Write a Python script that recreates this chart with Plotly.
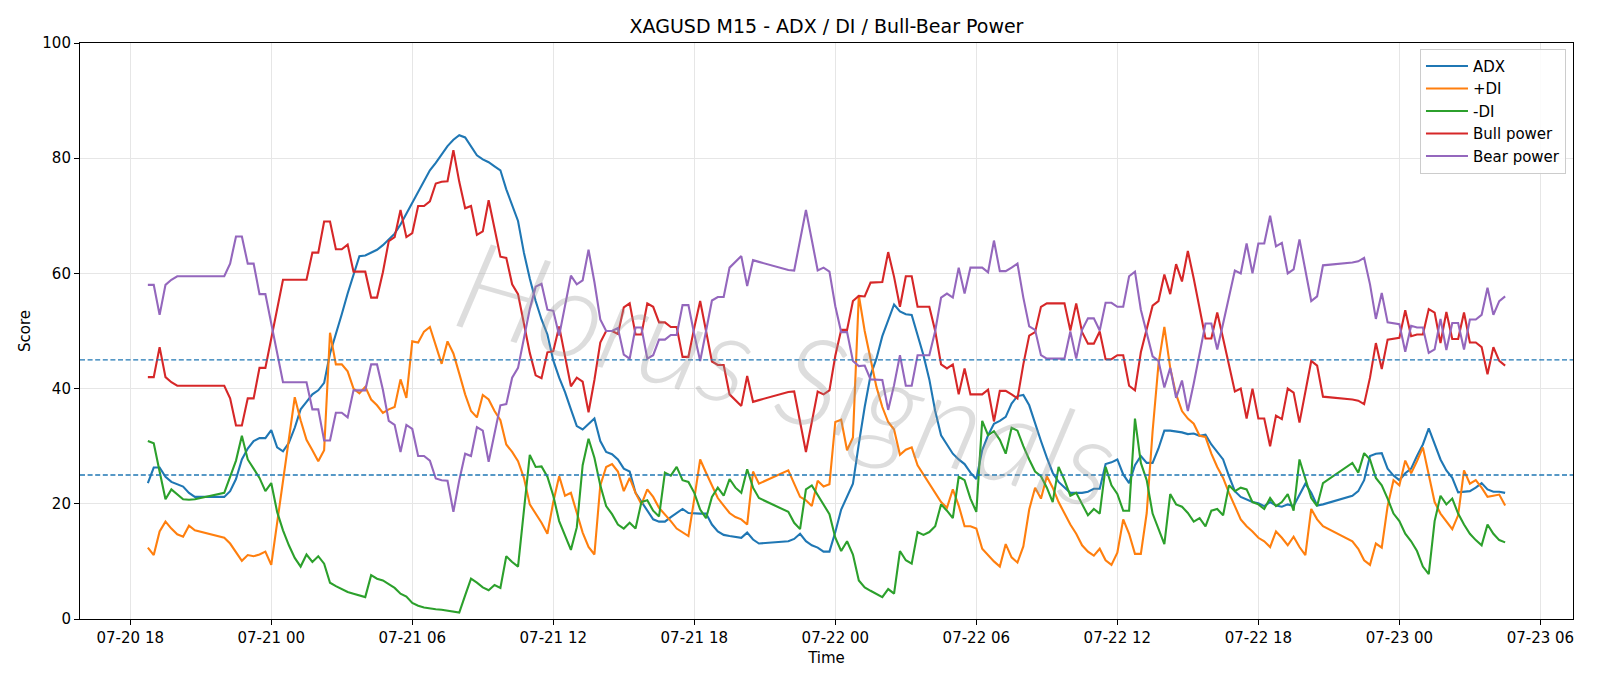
import pandas as pd
import plotly.graph_objects as go

# ---- time axis: 15-minute bars with daily break (20:45 -> 22:00) ----
segment_starts = ["2025-07-20 18:45", "2025-07-20 22:00", "2025-07-21 22:00", "2025-07-22 22:00"]
segment_counts = [9, 92, 92, 27]
times = []
for s, n in zip(segment_starts, segment_counts):
    times += list(pd.date_range(s, periods=n, freq="15min"))

# ---- series values ----
adx = [
    23.6, 26.3, 26.3, 24.7, 23.8, 23.4, 23.0, 21.9, 21.2,
    21.2, 22.2, 24.3, 27.7, 29.6, 30.9, 31.4, 31.4, 32.8, 29.8, 29.1, 30.6, 33.2, 36.4, 37.7, 39.0,
    39.7, 41.0, 46.1, 49.4, 52.9, 56.5, 59.7, 63.0, 63.1, 63.6, 64.1, 64.9, 65.9, 66.9, 68.5, 70.4,
    72.2, 74.3, 76.2, 77.9, 79.2, 80.6, 82.1, 83.2, 84.0, 83.6, 82.1, 80.5, 79.8, 79.3, 78.6, 77.9,
    74.6, 71.7, 69.1, 63.6, 59.1, 55.2, 52.0, 49.4, 44.9, 41.9, 39.4, 36.4, 33.5, 32.9, 33.9, 34.8,
    30.9, 29.0, 28.6, 27.7, 26.1, 25.6, 21.9, 20.3, 18.8, 17.3, 16.9, 16.9, 17.7, 18.4, 19.1, 18.4,
    18.3, 18.3, 18.3, 16.4, 15.2, 14.6, 14.4, 14.3, 14.1, 15.0, 13.8, 13.1,
    13.5, 13.9, 14.8, 13.5, 12.8, 12.4, 11.7, 11.7, 15.1, 19.0, 21.2, 23.5, 30.4, 36.8, 42.3, 45.2,
    49.1, 51.8, 54.6, 53.4, 52.9, 52.8, 49.4, 45.8, 41.6, 36.1, 31.9, 30.3, 28.7, 27.7, 26.9, 25.4,
    24.3, 29.3, 31.9, 33.9, 34.4, 35.1, 37.4, 38.7, 38.9, 37.1, 33.9, 30.9, 28.0, 25.4, 23.8, 22.8,
    21.9, 21.9, 21.9, 22.1, 22.6, 22.6, 26.9, 27.2, 27.7, 25.1, 23.6, 26.7, 28.3, 27.1, 27.1, 29.6,
    32.7, 32.7, 32.6, 32.4, 32.1, 32.2, 31.8, 32.0, 30.3, 29.0, 27.7, 24.8, 22.2, 21.2, 20.8, 20.3,
    20.1, 19.6, 20.3, 19.7, 19.5, 19.9, 19.6, 21.6, 23.5, 21.9, 19.7, 19.9,
    21.4, 22.2, 24.1, 28.3, 28.7, 28.8, 26.1, 24.9, 24.1, 25.3, 26.1, 28.3, 30.3, 33.1, 30.3, 27.7,
    25.8, 24.5, 22.0, 22.1, 22.2, 22.8, 23.6, 22.5, 22.1, 22.1, 21.9,
]
plus_di = [
    12.4, 11.1, 15.2, 16.9, 15.7, 14.7, 14.3, 16.2, 15.4,
    14.1, 13.1, 11.7, 10.1, 11.1, 10.9, 11.2, 11.7, 9.4, 16.7, 24.0, 31.0, 38.5, 34.5, 31.1, 29.3,
    27.4, 29.3, 49.7, 44.2, 44.2, 43.0, 40.0, 39.2, 40.3, 38.1, 37.1, 35.8, 36.4, 36.8, 41.6, 38.4,
    48.2, 48.0, 49.9, 50.7, 47.4, 44.3, 48.2, 46.1, 42.6, 39.0, 36.1, 35.0, 38.9, 38.1, 36.1, 34.5,
    30.3, 29.0, 27.4, 24.5, 19.9, 18.3, 16.7, 14.8, 20.3, 24.8, 21.4, 21.9, 18.3, 15.0, 12.5, 11.2,
    23.2, 26.4, 26.9, 25.6, 22.2, 24.5, 21.9, 19.9, 22.5, 21.2, 19.3, 18.2, 17.0, 15.7, 15.1, 14.4,
    20.9, 27.7, 25.4, 23.2, 21.0, 19.7, 18.4, 17.7, 17.3, 16.4, 25.6, 23.5,
    25.8, 23.5, 21.2, 20.6, 19.6, 24.0, 23.0, 23.4, 34.2, 34.6, 29.3, 31.5, 56.2, 50.0, 44.9, 40.3,
    36.8, 34.2, 32.9, 28.5, 29.4, 29.8, 26.7, 25.1, 23.5, 21.9, 20.3, 19.3, 22.5, 19.7, 16.1, 16.1,
    15.7, 12.2, 11.1, 10.0, 9.1, 13.0, 10.7, 9.8, 12.6, 19.0, 22.8, 20.9, 24.8, 22.8, 20.3, 18.3,
    16.4, 14.8, 12.8, 11.7, 11.0, 12.2, 10.2, 9.4, 11.5, 17.3, 14.8, 11.3, 11.3, 18.4, 32.6, 44.2,
    50.7, 43.6, 39.0, 36.1, 34.8, 33.9, 31.8, 31.6, 28.7, 26.4, 24.5, 21.9, 19.6, 17.3, 16.1, 15.2,
    14.1, 13.5, 12.5, 15.2, 14.1, 12.8, 14.3, 12.5, 11.1, 19.1, 17.3, 16.1,
    13.5, 12.2, 10.2, 9.4, 13.1, 12.4, 19.6, 24.1, 23.2, 27.5, 25.3, 27.4, 29.8, 24.8, 20.3, 18.3,
    17.0, 15.6, 18.0, 25.8, 23.5, 24.1, 22.8, 21.2, 21.4, 21.6, 19.7,
]
minus_di = [
    30.9, 30.5, 25.6, 20.8, 22.5, 21.7, 20.8, 20.7, 20.8,
    21.9, 24.8, 27.5, 31.8, 27.7, 26.1, 24.5, 22.2, 23.6, 18.6, 15.4, 12.8, 10.6, 9.1, 11.2, 9.9,
    10.9, 9.6, 6.3, 5.7, 5.2, 4.7, 4.4, 4.1, 3.8, 7.6, 7.0, 6.7, 6.0, 5.4, 4.4, 3.9,
    2.8, 2.3, 2.0, 1.8, 1.7, 1.6, 1.4, 1.2, 1.1, 4.1, 7.0, 6.3, 5.5, 5.0, 5.9, 5.4,
    10.9, 9.9, 9.1, 18.8, 28.5, 26.4, 26.5, 24.7, 21.4, 17.0, 14.4, 12.0, 15.9, 26.7, 31.3, 28.0,
    23.2, 19.6, 18.2, 16.4, 15.7, 16.7, 15.7, 20.3, 20.6, 18.8, 17.8, 25.4, 24.9, 26.4, 24.1, 23.8,
    21.9, 19.0, 17.5, 21.2, 22.8, 21.4, 24.3, 22.8, 21.9, 26.0, 22.8, 21.0,
    18.6, 16.7, 15.6, 22.5, 23.2, 21.6, 19.9, 18.2, 14.1, 11.8, 13.5, 11.2, 6.7, 5.5, 4.9, 4.3,
    3.8, 5.2, 4.4, 11.8, 10.2, 9.6, 15.1, 14.6, 15.1, 16.1, 19.9, 18.8, 17.5, 24.7, 24.1, 20.9,
    18.6, 34.4, 31.9, 32.6, 31.1, 28.7, 33.2, 32.7, 30.0, 27.7, 25.6, 24.8, 22.8, 20.3, 26.4, 24.1,
    21.4, 21.9, 19.9, 18.0, 19.1, 18.3, 26.4, 23.2, 21.7, 18.8, 18.8, 34.8, 27.1, 24.1, 18.3, 15.7,
    13.0, 21.7, 19.9, 19.5, 18.4, 16.9, 17.5, 16.1, 18.8, 19.1, 18.0, 23.2, 22.2, 22.8, 22.5, 20.3,
    19.9, 19.1, 21.0, 19.6, 20.3, 21.7, 18.8, 27.7, 24.5, 21.0, 19.6, 23.6,
    27.1, 25.4, 28.8, 27.7, 24.5, 23.2, 20.9, 18.3, 17.0, 14.8, 13.5, 11.8, 9.1, 7.8, 17.0, 21.4,
    19.9, 20.9, 18.3, 16.4, 14.8, 13.7, 12.8, 16.4, 14.8, 13.7, 13.3,
]
bull_power = [
    42.0, 42.0, 47.2, 42.0, 41.1, 40.5, 40.5, 40.5, 40.5,
    40.5, 38.3, 33.6, 33.6, 38.3, 38.3, 43.6, 43.6, 48.9, 53.9, 58.9, 58.9, 58.9, 58.9, 58.9, 63.6,
    63.6, 69.0, 69.0, 64.2, 64.2, 65.0, 60.3, 60.3, 60.3, 55.8, 55.8, 60.2, 65.6, 66.3, 71.0, 66.3,
    67.0, 71.7, 71.7, 72.5, 75.6, 75.9, 76.0, 81.4, 75.9, 71.3, 71.7, 66.7, 67.3, 72.7, 67.8, 62.9,
    62.7, 58.1, 56.4, 51.0, 46.2, 42.3, 41.8, 46.3, 46.5, 50.8, 45.4, 40.4, 41.9, 41.2, 35.9, 41.5,
    48.0, 50.0, 50.0, 49.5, 54.1, 54.8, 49.4, 49.4, 54.8, 54.2, 51.5, 51.5, 50.7, 50.7, 45.5, 45.5,
    50.6, 55.2, 50.0, 44.7, 44.1, 44.1, 39.0, 38.0, 37.0, 42.2, 37.7, 38.0,
    39.4, 39.5, 34.3, 29.0, 34.2, 39.5, 39.0, 39.7, 45.7, 50.2, 50.2, 55.2, 56.1, 56.0, 58.4, 58.5,
    58.5, 63.7, 59.4, 54.2, 59.5, 59.5, 54.2, 54.2, 54.2, 50.0, 44.2, 43.5, 44.2, 39.0, 43.5, 39.0,
    39.0, 39.0, 39.8, 34.3, 39.6, 39.6, 39.0, 38.3, 44.2, 49.2, 49.8, 54.2, 54.8, 54.8, 54.8, 54.8,
    50.1, 54.8, 49.8, 47.8, 47.8, 49.9, 45.1, 45.1, 45.8, 45.8, 40.5, 39.7, 46.3, 50.5, 54.4, 55.2,
    59.8, 56.4, 61.6, 58.6, 63.9, 59.1, 54.2, 48.7, 48.7, 53.2, 48.7, 44.1, 39.5, 40.0, 34.8, 40.0,
    34.8, 34.8, 30.0, 35.3, 34.7, 40.0, 39.3, 34.1, 39.6, 44.8, 44.0, 38.6,
    38.1, 37.9, 37.3, 41.9, 47.9, 43.4, 48.5, 48.6, 48.8, 53.6, 49.1, 49.4, 49.4, 53.8, 53.2, 47.9,
    53.3, 48.6, 48.6, 53.2, 48.0, 48.0, 47.2, 42.5, 47.2, 44.8, 44.0,
]
bear_power = [
    58.0, 58.0, 52.8, 58.0, 58.9, 59.5, 59.5, 59.5, 59.5,
    59.5, 61.7, 66.4, 66.4, 61.7, 61.7, 56.4, 56.4, 51.1, 46.1, 41.1, 41.1, 41.1, 41.1, 41.1, 36.4,
    36.4, 31.0, 31.0, 35.8, 35.8, 35.0, 39.7, 39.7, 39.7, 44.2, 44.2, 39.8, 34.4, 33.7, 29.0, 33.7,
    33.0, 28.3, 28.3, 27.5, 24.4, 24.1, 24.0, 18.6, 24.1, 28.7, 28.3, 33.3, 32.7, 27.3, 32.2, 37.1,
    37.3, 41.9, 43.6, 49.0, 53.8, 57.7, 58.2, 53.7, 53.5, 49.2, 54.6, 59.6, 58.1, 58.8, 64.1, 58.5,
    52.0, 50.0, 50.0, 50.5, 45.9, 45.2, 50.6, 50.6, 45.2, 45.8, 48.5, 48.5, 49.3, 49.3, 54.5, 54.5,
    49.4, 44.8, 50.0, 55.3, 55.9, 55.9, 61.0, 62.0, 63.0, 57.8, 62.3, 62.0,
    60.6, 60.5, 65.7, 71.0, 65.8, 60.5, 61.0, 60.3, 54.3, 49.8, 49.8, 44.8, 43.9, 44.0, 41.6, 41.5,
    41.5, 36.3, 40.6, 45.8, 40.5, 40.5, 45.8, 45.8, 45.8, 50.0, 55.8, 56.5, 55.8, 61.0, 56.5, 61.0,
    61.0, 61.0, 60.2, 65.7, 60.4, 60.4, 61.0, 61.7, 55.8, 50.8, 50.2, 45.8, 45.2, 45.2, 45.2, 45.2,
    49.9, 45.2, 50.2, 52.2, 52.2, 50.1, 54.9, 54.9, 54.2, 54.2, 59.5, 60.3, 53.7, 49.5, 45.6, 44.8,
    40.2, 43.6, 38.4, 41.4, 36.1, 40.9, 45.8, 51.3, 51.3, 46.8, 51.3, 55.9, 60.5, 60.0, 65.2, 60.0,
    65.2, 65.2, 70.0, 64.7, 65.3, 60.0, 60.7, 65.9, 60.4, 55.2, 56.0, 61.4,
    61.9, 62.1, 62.7, 58.1, 52.1, 56.6, 51.5, 51.4, 51.2, 46.4, 50.9, 50.6, 50.6, 46.2, 46.8, 52.1,
    46.7, 51.4, 51.4, 46.8, 52.0, 52.0, 52.8, 57.5, 52.8, 55.2, 56.0,
]

series = [
    ("ADX", adx, "#1f77b4"),
    ("+DI", plus_di, "#ff7f0e"),
    ("-DI", minus_di, "#2ca02c"),
    ("Bull power", bull_power, "#d62728"),
    ("Bear power", bear_power, "#9467bd"),
]
threshold_levels = [45, 25]

fig = go.Figure()
for name, vals, color in series:
    assert len(vals) == len(times), (name, len(vals), len(times))
    fig.add_trace(go.Scatter(x=times, y=vals, mode="lines", name=name,
                             line=dict(color=color, width=2.1)))

for lvl in threshold_levels:
    fig.add_shape(type="line", xref="paper", x0=0, x1=1, yref="y", y0=lvl, y1=lvl,
                  line=dict(color="#1f77b4", width=1.3, dash="5px,2.6px"), layer="above")

# watermark
fig.add_annotation(text="Horus Signals", xref="paper", yref="paper", x=0.474, y=0.43,
                   showarrow=False, textangle=16,
                   font=dict(family="Lato", size=124, weight=300, style="italic",
                             color="rgba(150,150,150,0.32)"))

x_start = pd.Timestamp("2025-07-20 18:45")
x_end = pd.Timestamp("2025-07-23 04:30")
pad = (x_end - x_start) * 0.05
tick_vals = list(pd.date_range("2025-07-20 18:00", "2025-07-23 06:00", freq="6h"))

font_main = "DejaVu Sans"
axis_common = dict(showline=True, linecolor="black", linewidth=1.1, mirror=True,
                   ticks="outside", ticklen=5, tickwidth=1.1, tickcolor="black",
                   showgrid=True, gridcolor="#e6e6e6", gridwidth=1.1, zeroline=False,
                   tickfont=dict(family=font_main, size=15, color="black"))

fig.update_layout(
    width=1600, height=686,
    margin=dict(l=80, r=27, t=43, b=67),
    paper_bgcolor="white", plot_bgcolor="white",
    title=dict(text="XAGUSD M15 - ADX / DI / Bull-Bear Power", x=0.5, xref="paper",
               xanchor="center", y=1 - 26.5 / 686, yanchor="middle",
               font=dict(family=font_main, size=19, color="black")),
    xaxis=dict(range=[x_start - pad, x_end + pad], tickvals=tick_vals, tickformat="%m-%d %H",
               title=dict(text="Time", font=dict(family=font_main, size=15, color="black"), standoff=6),
               **axis_common),
    yaxis=dict(range=[0, 100], tickvals=[0, 20, 40, 60, 80, 100],
               title=dict(text="Score", font=dict(family=font_main, size=15, color="black"), standoff=8),
               **axis_common),
    legend=dict(x=0.9953, xanchor="right", y=0.99, yanchor="top", itemwidth=42,
                bgcolor="rgba(255,255,255,0.85)", bordercolor="#cccccc", borderwidth=1,
                font=dict(family=font_main, size=15, color="black")),
    showlegend=True,
)

fig.write_html("out.html")
